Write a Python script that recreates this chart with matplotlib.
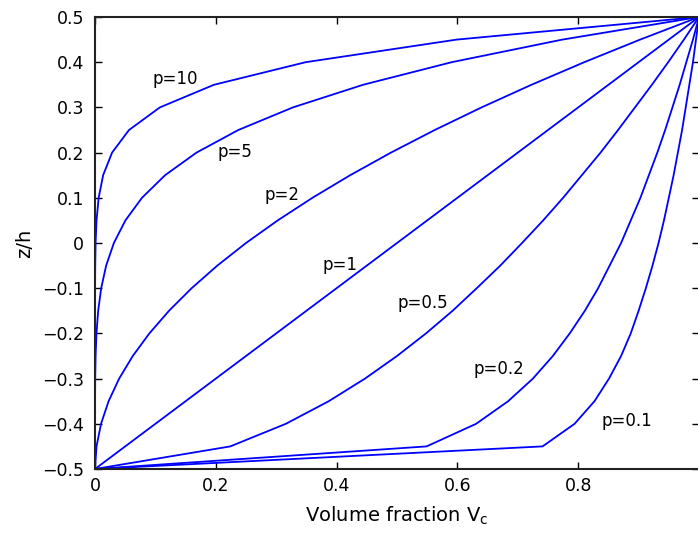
import matplotlib
matplotlib.use("Agg")
import matplotlib.pyplot as plt

plt.rcParams['font.family'] = ['DejaVu Sans']

# z/h sampled every 0.05 from -0.5 to 0.5
z_h = [-0.5, -0.45, -0.4, -0.35, -0.3, -0.25, -0.2, -0.15, -0.1, -0.05, 0.0,
       0.05, 0.1, 0.15, 0.2, 0.25, 0.3, 0.35, 0.4, 0.45, 0.5]

# volume fraction Vc for each power-law index p
vc_p01 = [0, 0.741, 0.794, 0.827, 0.851, 0.871, 0.887, 0.900, 0.912, 0.923, 0.933,
          0.942, 0.950, 0.958, 0.965, 0.972, 0.978, 0.984, 0.990, 0.995, 1]
vc_p02 = [0, 0.549, 0.631, 0.684, 0.725, 0.758, 0.786, 0.811, 0.833, 0.852, 0.871,
          0.887, 0.903, 0.917, 0.931, 0.944, 0.956, 0.968, 0.979, 0.990, 1]
vc_p05 = [0, 0.224, 0.316, 0.387, 0.447, 0.500, 0.548, 0.592, 0.632, 0.671, 0.707,
          0.742, 0.775, 0.806, 0.837, 0.866, 0.894, 0.922, 0.949, 0.975, 1]
vc_p1 = [0, 0.05, 0.10, 0.15, 0.20, 0.25, 0.30, 0.35, 0.40, 0.45, 0.50,
         0.55, 0.60, 0.65, 0.70, 0.75, 0.80, 0.85, 0.90, 0.95, 1]
vc_p2 = [0, 0.0025, 0.01, 0.0225, 0.04, 0.0625, 0.09, 0.1225, 0.16, 0.2025, 0.25,
         0.3025, 0.36, 0.4225, 0.49, 0.5625, 0.64, 0.7225, 0.81, 0.9025, 1]
vc_p5 = [0, 0.0, 0.00001, 0.00008, 0.00032, 0.00098, 0.00243, 0.00525, 0.01024, 0.01845, 0.03125,
         0.05033, 0.07776, 0.11603, 0.16807, 0.2373, 0.32768, 0.4437, 0.59049, 0.77378, 1]
vc_p10 = [0, 0.0, 0.0, 0.0, 0.0, 0.000001, 0.000006, 0.000028, 0.000105, 0.000341, 0.000977,
          0.00253, 0.00605, 0.01346, 0.02825, 0.05631, 0.10737, 0.19687, 0.34868, 0.59874, 1]

series = [vc_p01, vc_p02, vc_p05, vc_p1, vc_p2, vc_p5, vc_p10]

labels = ["p=10", "p=5", "p=2", "p=1", "p=0.5", "p=0.2", "p=0.1"]
label_x = [0.096, 0.202, 0.281, 0.376, 0.50, 0.627, 0.839]
label_y = [0.362, 0.202, 0.107, -0.049, -0.133, -0.278, -0.393]

x_ticks = [0, 0.2, 0.4, 0.6, 0.8]
x_ticklabels = ["0", "0.2", "0.4", "0.6", "0.8"]
y_ticks = [-0.5, -0.4, -0.3, -0.2, -0.1, 0, 0.1, 0.2, 0.3, 0.4, 0.5]
y_ticklabels = ["\u22120.5", "\u22120.4", "\u22120.3", "\u22120.2", "\u22120.1", "0",
                "0.1", "0.2", "0.3", "0.4", "0.5"]

fig = plt.figure(figsize=(6.98, 5.36), dpi=100)
ax = fig.add_axes([95 / 698, 67 / 536, 604 / 698, 452 / 536])

for vc in series:
    ax.plot(vc, z_h, color='#0000ff', lw=1.3)

for txt, x, y in zip(labels, label_x, label_y):
    ax.text(x, y, txt, fontsize=12, ha='left', va='center')

ax.set_xlim(0, 1)
ax.set_ylim(-0.5, 0.5)
ax.set_xticks(x_ticks)
ax.set_xticklabels(x_ticklabels)
ax.set_yticks(y_ticks)
ax.set_yticklabels(y_ticklabels)
ax.tick_params(direction='in', length=5, width=1, top=True, right=True, labelsize=12.5)
ax.tick_params(axis='y', pad=8)
ax.tick_params(axis='x', pad=6)
for sp in ax.spines.values():
    sp.set_linewidth(1.5)
    sp.set_color('#222222')

ax.set_xlabel("Volume fraction V$_\\mathregular{c}$", fontsize=14, labelpad=7)
ax.set_ylabel("z/h", fontsize=14)
ax.yaxis.set_label_coords(-0.10, 0.5)

fig.savefig("out.png", dpi=100)
